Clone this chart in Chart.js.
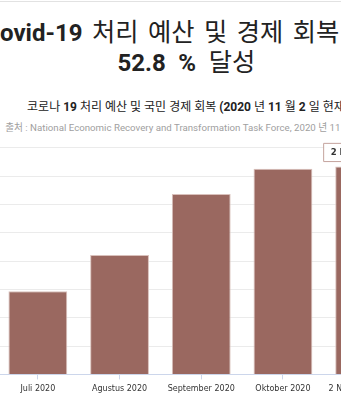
<!DOCTYPE html>
<html>
<head>
<meta charset="utf-8">
<script src="https://cdn.jsdelivr.net/npm/chart.js@4.4.1/dist/chart.umd.min.js"></script>
<style>
  body { margin: 0; width: 341px; height: 400px; overflow: hidden; position: relative; background: #fff; }
  .topline { position: absolute; left: 0; top: 1px; width: 341px; height: 1px; background: #e2e2e2; }
  .wrap { position: absolute; left: -34px; top: 0; width: 444px; height: 400px; }
  .t { position: absolute; left: 0; width: 444px; text-align: center; white-space: nowrap; line-height: 1; font-family: Roboto, "Noto Sans CJK KR", sans-serif; }
  .t b { font-weight: 700; }
  .t1, .t2 { font-size: 24px; color: #222; text-align: left; }
  .t1 { top: 20.3px; left: 18.4px; word-spacing: 3.2px; }
  .t2 { top: 49.6px; left: 151.5px; word-spacing: 6.5px; }
  .t1 span, .t2 span { font-size: 25.3px; }
  .sub { top: 101px; font-size: 12px; color: #222; }
  .src { top: 122.5px; font-size: 9.7px; color: #a0a0a0; }
  .box { position: absolute; left: 0; top: 140px; width: 544px; height: 260px; }
</style>
</head>
<body>
<div class="topline"></div>
<div class="wrap">
  <div class="t t1"><b>Covid-19</b><span> 처리 예산 및 경제 회복 실현</span></div>
  <div class="t t2"><b>52.8 %</b><span> 달성</span></div>
  <div class="t sub">코로나 <b>19</b> 처리 예산 및 국민 경제 회복 <b>(2020</b> 년 <b>11</b> 월 <b>2</b> 일 현재)</div>
  <div class="t src">출처 : National Economic Recovery and Transformation Task Force, 2020 년 11 월 2 일</div>
  <div class="box"><canvas id="pen"></canvas></div>
</div>
<script>
// Realisasi anggaran PEN (triliun rupiah)
const labels = ["Juli 2020", "Agustus 2020", "September 2020", "Oktober 2020", "2 November 2020"]
const values = [146.7, 210.8, 318.5, 362.8, 366.86]
const yTicks = [0, 50, 100, 150, 200, 250, 300, 350, 400]

Chart.Tooltip.positioners.barTop = function (items) {
    if (!items.length) return false
    const el = items[0].element
    return { x: el.x - 41, y: el.y - 5 }
}

const data = {
    labels: labels,
    datasets: [
        {
            label: "Realisasi",
            data: values,
            backgroundColor: "#9a6860",
            borderColor: "#d9c0bb",
            borderWidth: 1,
        },
    ],
}

var ctx = document.getElementById("pen").getContext("2d")
const config = {
    type: "bar",
    data: data,
    options: {
        responsive: true,
        maintainAspectRatio: false,
        animation: false,
        events: [],
        layout: { padding: { top: 6, right: 104.5, bottom: 1, left: 0 } },
        scales: {
            x: {
                grid: { drawOnChartArea: false, offset: false, tickLength: 5, color: "#ccd6eb" },
                border: { color: "#ccd6eb" },
                ticks: { color: "#333", font: { family: "DejaVu Sans", size: 8 }, padding: 5, maxRotation: 0, autoSkip: false },
            },
            y: {
                min: 0,
                max: 400,
                afterBuildTicks: (s) => { s.ticks = yTicks.map(v => ({ value: v })) },
                afterFit: (s) => { s.width = 31 },
                grid: { color: "#ebebeb", drawTicks: false },
                border: { display: false },
                ticks: { color: "#666", font: { family: "DejaVu Sans", size: 8 } },
            },
        },
        plugins: {
            legend: { display: false },
            tooltip: {
                position: "barTop",
                xAlign: "left",
                yAlign: "bottom",
                caretSize: 0,
                caretPadding: 0,
                cornerRadius: 0,
                backgroundColor: "rgba(255,255,255,0.95)",
                borderColor: "#c4a39d",
                borderWidth: 1,
                titleColor: "#333",
                titleFont: { family: "DejaVu Sans", size: 8.5, weight: "bold" },
                titleMarginBottom: 0,
                padding: { x: 7, y: 4 },
                displayColors: false,
                callbacks: {
                    title: (items) => items[0].label + ": " + items[0].raw,
                    label: () => null,
                },
            },
        },
    },
}
var penChart = new Chart(ctx, config)
penChart.tooltip.setActiveElements([{ datasetIndex: 0, index: 4 }], { x: 0, y: 0 })
penChart.update()
</script>
</body>
</html>
